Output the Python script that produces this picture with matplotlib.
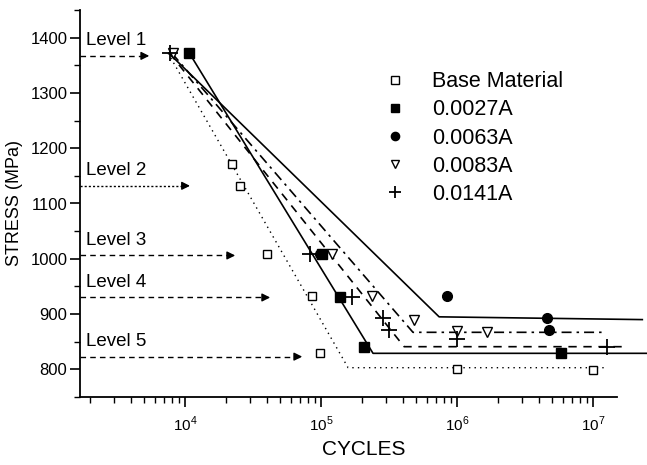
import matplotlib.pyplot as plt
import matplotlib.ticker as ticker
import numpy as np

plt.rcParams['font.family'] = ['Liberation Sans', 'DejaVu Sans']
plt.rcParams['mathtext.fontset'] = 'custom'
plt.rcParams['mathtext.rm'] = 'Liberation Sans'

# 試験データ (cycles, stress MPa)
base_x = [22200, 25300, 40100, 85900, 98500, 1.0e6, 1.0e7]
base_y = [1172, 1132, 1008, 932, 830, 801, 798]
a27_x = [10700, 102000, 138000, 207000, 5.8e6]
a27_y = [1373, 1008, 930, 841, 830]
a63_x = [98000, 843000, 4.6e6, 4.7e6]
a63_y = [1008, 932, 892, 872]
a83_x = [8200, 120000, 237000, 483000, 1.0e6, 1.67e6]
a83_y = [1372, 1008, 932, 890, 870, 867]
a141_x = [7760, 83000, 169000, 286000, 316000, 1.0e6, 1.26e7]
a141_y = [1372, 1008, 930, 892, 872, 855, 841]

# 近似線
base_fit_x = [7500, 158000, 1.26e7]
base_fit_y = [1372, 803, 803]
a27_fit_x = [10700, 241000, 2.46e7]
a27_fit_y = [1373, 829, 829]
a63_fit_x = [7600, 738000, 2.3e7]
a63_fit_y = [1372, 895, 890]
a83_fit_x = [8000, 474000, 1.2e7]
a83_fit_y = [1372, 867, 867]
a141_fit_x = [7700, 408000, 1.72e7]
a141_fit_y = [1372, 841, 841]

# 応力レベル
level_names = ['Level 1', 'Level 2', 'Level 3', 'Level 4', 'Level 5']
level_y = [1367, 1132, 1006, 930, 823]
level_tip = [5720, 11400, 24500, 44300, 76200]

xmin, xmax = 1690, 2.49e7
fig = plt.figure(figsize=(6.47, 4.65), dpi=100)
ax = fig.add_axes([80 / 647, 1 - 397 / 465, 1 - 80 / 647, (397 - 10) / 465])
ax.set_xscale('log')
ax.set_xlim(xmin, xmax)
ax.set_ylim(750, 1450)

ax.plot(base_fit_x, base_fit_y, color='k', lw=1, ls=(0, (1, 3)))
ax.plot(a27_fit_x, a27_fit_y, color='k', lw=1.2)
ax.plot(a63_fit_x, a63_fit_y, color='k', lw=1.2)
ax.plot(a83_fit_x, a83_fit_y, color='k', lw=1.2, ls=(0, (6, 3, 1.5, 3)))
ax.plot(a141_fit_x, a141_fit_y, color='k', lw=1.2, ls=(0, (5, 4)))

ax.plot(base_x, base_y, 's', ms=6, mfc='white', mec='k', mew=1, label='Base Material')
ax.plot(a63_x, a63_y, 'o', ms=7, color='k', label='0.0063A')
ax.plot(a27_x, a27_y, 's', ms=6.5, color='k', label='0.0027A')
ax.plot(a83_x, a83_y, 'v', ms=7.5, mfc='white', mec='k', mew=1, label='0.0083A')
ax.plot(a141_x, a141_y, '+', ms=11, mew=1.3, color='k', label='0.0141A')

for i, name in enumerate(level_names):
    ls = (0, (1.5, 1.5)) if i == 1 else (0, (4, 3))
    ax.plot([xmin, level_tip[i] * 0.9], [level_y[i]] * 2, color='k', lw=1, ls=ls)
    ax.annotate('', xy=(level_tip[i], level_y[i]), xytext=(level_tip[i] * 0.8, level_y[i]),
                arrowprops=dict(arrowstyle='-|>', color='k', lw=1, mutation_scale=12))
    ax.text(1870, level_y[i] + 12, name, fontsize=13.5, va='bottom', ha='left')

handles, labels = ax.get_legend_handles_labels()
order = [0, 2, 1, 3, 4]
ax.legend([handles[i] for i in order], [labels[i] for i in order],
          loc='upper left', bbox_to_anchor=(363 / 647, 1 - 52 / 465),
          bbox_transform=fig.transFigure, frameon=False, fontsize=15.5,
          handlelength=1.2, handletextpad=1.1, labelspacing=0.33, markerscale=0.85)

for s in ['top', 'right']:
    ax.spines[s].set_visible(False)
ax.spines['bottom'].set_bounds(xmin, 1.5e7)
ax.spines['left'].set_linewidth(1.3)
ax.spines['bottom'].set_linewidth(1.3)

ax.xaxis.set_major_locator(ticker.FixedLocator([1e4, 1e5, 1e6, 1e7]))
minors = [m * 10 ** e for e in range(3, 7) for m in range(2, 10) if xmin <= m * 10 ** e]
ax.xaxis.set_minor_locator(ticker.FixedLocator(minors))
ax.xaxis.set_major_formatter(ticker.FuncFormatter(lambda v, p: r'10$^{%d}$' % round(np.log10(v))))
ax.xaxis.set_minor_formatter(ticker.NullFormatter())
ax.yaxis.set_major_locator(ticker.MultipleLocator(100))
ax.yaxis.set_minor_locator(ticker.MultipleLocator(50))
ax.yaxis.set_major_formatter(ticker.FuncFormatter(lambda v, p: '%d' % v if v >= 800 and v <= 1400 else ''))
ax.tick_params(axis='both', which='major', length=7, width=1.2)
ax.tick_params(axis='both', which='minor', length=4, width=1)
ax.tick_params(axis='y', labelsize=12, pad=2)
ax.tick_params(axis='x', labelsize=11, pad=6)

ax.set_xlabel('CYCLES', fontsize=15, labelpad=4)
ax.set_ylabel('STRESS (MPa)', fontsize=13, labelpad=5)

plt.savefig('out.png', dpi=100)
